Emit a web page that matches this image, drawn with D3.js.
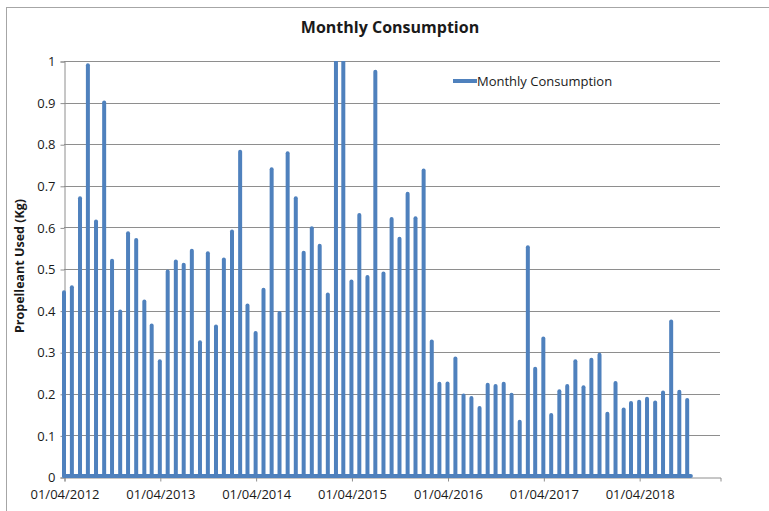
<!DOCTYPE html>
<html>
<head>
  <meta charset='utf-8'>
  <title>Monthly Consumption</title>
  <script src="https://cdnjs.cloudflare.com/ajax/libs/d3/7.8.5/d3.min.js"></script>
  <style>
    body { margin: 0; background: white; }
    text { font-family: 'Open Sans', sans-serif; fill: #1a1a1a; }
    .tick-label { font-size: 13px; }
  </style>
</head>
<body>
  <svg width="769" height="511" id="chart"></svg>
  <script>
    // monthly propellant use, Apr 2012 .. Oct 2018 (one value per month)
    const firstMonth = new Date(2012, 3, 1);
    const lastDay = new Date(2018, 9, 15);
    const consumption = [
      0.444, 0.456, 0.670, 0.990, 0.614, 0.900, 0.520, 0.398, 0.586, 0.570, 0.422, 0.364,
      0.278, 0.494, 0.518, 0.510, 0.544, 0.324, 0.538, 0.362, 0.523, 0.590, 0.782, 0.412,
      0.346, 0.450, 0.740, 0.394, 0.778, 0.670, 0.539, 0.598, 0.556, 0.439, 1.150, 1.100,
      0.470, 0.630, 0.481, 0.974, 0.489, 0.620, 0.573, 0.681, 0.622, 0.737, 0.326, 0.224,
      0.225, 0.285, 0.196, 0.190, 0.166, 0.222, 0.219, 0.224, 0.198, 0.133, 0.552, 0.260,
      0.333, 0.149, 0.206, 0.219, 0.278, 0.216, 0.282, 0.294, 0.152, 0.226, 0.162, 0.178,
      0.181, 0.188, 0.179, 0.203, 0.374, 0.205, 0.185
    ];
    const yTicks = [0, 0.1, 0.2, 0.3, 0.4, 0.5, 0.6, 0.7, 0.8, 0.9, 1];
    const xTickDates = [2012, 2013, 2014, 2015, 2016, 2017, 2018].map(yr => new Date(yr, 3, 1));

    const data = consumption.map((v, i) => ({ date: d3.timeMonth.offset(firstMonth, i), value: v }));

    const blue = '#4f81bd';
    const gridColor = '#8e8e8e';

    const svg = d3.select('#chart');

    // chart frame (only left and top show inside the picture)
    svg.append('rect')
      .attr('x', 6.5).attr('y', 7.5)
      .attr('width', 800).attr('height', 600)
      .attr('fill', 'none')
      .attr('stroke', '#a6a6a6');

    const x = d3.scaleTime()
      .domain([firstMonth, new Date(2019, 1, 3)])
      .range([64, 720]);
    const y = d3.scaleLinear()
      .domain([0, 1])
      .range([477, 61]);

    // gridlines
    svg.append('g')
      .selectAll('line')
      .data(yTicks.slice(1))
      .join('line')
      .attr('x1', x.range()[0]).attr('x2', x.range()[1])
      .attr('y1', d => Math.round(y(d)) + 0.5)
      .attr('y2', d => Math.round(y(d)) + 0.5)
      .attr('stroke', gridColor)
      .attr('stroke-width', 1);

    // y axis
    const yAxis = svg.append('g')
      .attr('transform', `translate(${x.range()[0] + 0.5},0.5)`)
      .call(d3.axisLeft(y).tickValues(yTicks).tickFormat(d3.format('')).tickSize(4).tickPadding(5));
    yAxis.select('.domain').attr('stroke', gridColor);
    yAxis.selectAll('.tick line').attr('stroke', gridColor);
    yAxis.selectAll('.tick text').attr('class', 'tick-label').attr('fill', '#1a1a1a').attr('font-family', null).attr('font-size', null);

    // x axis
    const xAxis = svg.append('g')
      .attr('transform', `translate(0.5,${y(0) + 0.5})`)
      .call(d3.axisBottom(x).tickValues(xTickDates).tickFormat(d3.timeFormat('%d/%m/%Y')).tickSize(4).tickPadding(8));
    xAxis.select('.domain').attr('stroke', gridColor);
    xAxis.selectAll('.tick line').attr('stroke', gridColor);
    xAxis.selectAll('.tick text').attr('class', 'tick-label').attr('fill', '#1a1a1a').attr('font-family', null).attr('font-size', null);

    // series
    svg.append('clipPath').attr('id', 'plotClip')
      .append('rect')
      .attr('x', 0).attr('y', y(1))
      .attr('width', 769).attr('height', y(0) - y(1) + 10);

    const series = svg.append('g').attr('clip-path', 'url(#plotClip)');

    series.append('line')
      .attr('x1', x(firstMonth)).attr('x2', x(lastDay))
      .attr('y1', y(0) - 1).attr('y2', y(0) - 1)
      .attr('stroke', blue)
      .attr('stroke-width', 4)
      .attr('stroke-linecap', 'round');

    series.selectAll('.spike')
      .data(data)
      .join('line')
      .classed('spike', true)
      .attr('x1', d => x(d.date)).attr('x2', d => x(d.date))
      .attr('y1', y(0) - 1)
      .attr('y2', d => y(d.value))
      .attr('stroke', blue)
      .attr('stroke-width', 4)
      .attr('stroke-linecap', 'round');

    // title
    svg.append('text')
      .attr('x', 390).attr('y', 33)
      .attr('text-anchor', 'middle')
      .attr('font-size', 16)
      .attr('font-weight', 'bold')
      .text('Monthly Consumption');

    // y axis title
    svg.append('text')
      .attr('transform', `translate(24,266) rotate(-90)`)
      .attr('text-anchor', 'middle')
      .attr('font-size', 12.5)
      .attr('font-weight', 'bold')
      .text('Propelleant Used (Kg)');

    // legend
    const legend = svg.append('g').attr('transform', 'translate(453,81)');
    legend.append('line')
      .attr('x1', 0).attr('x2', 24)
      .attr('stroke', blue)
      .attr('stroke-width', 4);
    legend.append('text')
      .attr('x', 24).attr('y', 4.5)
      .attr('font-size', 13)
      .text('Monthly Consumption');
  </script>
</body>
</html>
